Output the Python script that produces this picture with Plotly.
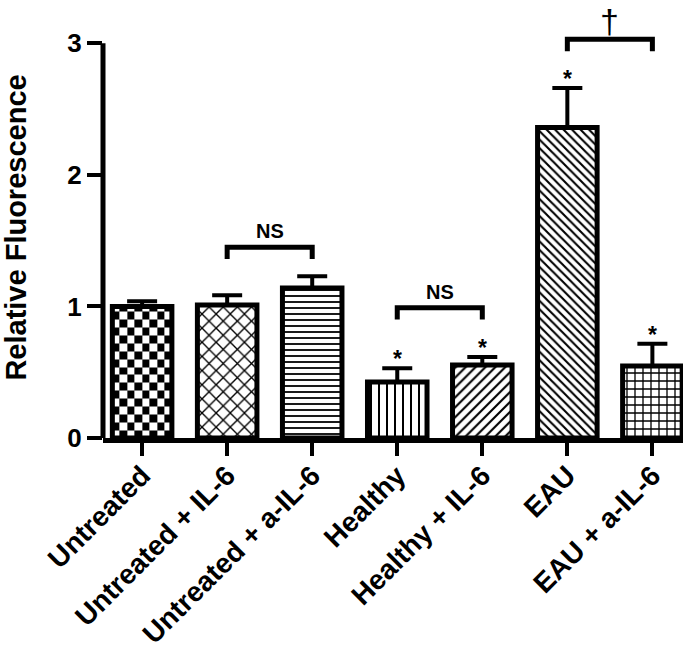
import numpy as np
import plotly.graph_objects as go

# values
groups = ["Untreated", "Untreated + IL-6", "Untreated + a-IL-6", "Healthy",
          "Healthy + IL-6", "EAU", "EAU + a-IL-6"]
means = [1.00, 1.01, 1.14, 0.425, 0.555, 2.36, 0.547]
sem = [0.04, 0.075, 0.09, 0.105, 0.06, 0.30, 0.17]
starred = [False, False, False, True, True, True, True]

# comparison brackets: (left group, right group), height, label
bracket_pairs = [(1, 2), (3, 4), (5, 6)]
bracket_heights = [1.45, 0.99, 3.03]
bracket_labels = ["NS", "NS", "†"]

FONT = "Liberation Sans"
BAR_W = 0.7
xs = list(range(len(groups)))

fig = go.Figure()

# checkerboard fill for the first bar (plotly has no checker pattern)
ncol = 8
step_y = 0.06
xe = np.linspace(-BAR_W / 2, BAR_W / 2, ncol + 1)
ye = list(np.arange(0, means[0], step_y)) + [means[0]]
z = [[(i + j) % 2 for j in range(ncol)] for i in range(len(ye) - 1)]
fig.add_trace(go.Heatmap(
    x=xe + xs[0], y=ye, z=z,
    colorscale=[[0, "white"], [1, "black"]],
    showscale=False, hoverinfo="skip"
))

shapes = ["", "x", "-", "|", "/", "\\", "+"]
sizes = [8, 10, 6, 8, 7, 6, 8]
solid = [0.3, 0.25, 0.3, 0.25, 0.3, 0.35, 0.3]

for i in xs:
    fill = "rgba(0,0,0,0)" if shapes[i] == "" else "white"
    marker = dict(color=fill, line=dict(color="black", width=5))
    if shapes[i]:
        marker["pattern"] = dict(shape=shapes[i], size=sizes[i],
                                 solidity=solid[i], fgcolor="black",
                                 bgcolor="white", fillmode="replace")
    fig.add_trace(go.Bar(
        x=[i], y=[means[i]], width=BAR_W, marker=marker,
        error_y=dict(type="data", symmetric=False, array=[sem[i]],
                     arrayminus=[0], color="black", thickness=4, width=15),
        hoverinfo="skip"
    ))

# brackets
for (a, b), h, lab in zip(bracket_pairs, bracket_heights, bracket_labels):
    leg = 0.09
    fig.add_trace(go.Scatter(
        x=[a, a, b, b], y=[h - leg, h, h, h - leg], mode="lines",
        line=dict(color="black", width=5), cliponaxis=False,
        hoverinfo="skip"
    ))
    if lab == "NS":
        fig.add_annotation(
            x=(a + b) / 2, y=h, text="<b>NS</b>", showarrow=False,
            yanchor="bottom", yshift=3,
            font=dict(family=FONT, size=20, color="black")
        )
    else:
        fig.add_annotation(
            x=(a + b) / 2, y=h, text=lab, showarrow=False,
            yanchor="bottom", yshift=-3,
            font=dict(family=FONT, size=34, color="black")
        )

for i, (m, e, s) in enumerate(zip(means, sem, starred)):
    if s:
        fig.add_annotation(
            x=i, y=m + e, text="<b>*</b>", showarrow=False,
            yanchor="bottom", yshift=-6,
            font=dict(family=FONT, size=23, color="black")
        )

# y axis line only up to 3, the range goes higher for the dagger bracket
fig.add_shape(type="line", xref="paper", yref="y", x0=0, x1=0, y0=0, y1=3,
              line=dict(color="black", width=5))

fig.update_layout(
    width=695, height=653,
    margin=dict(l=103, r=12, t=17, b=215),
    plot_bgcolor="white", paper_bgcolor="white",
    showlegend=False, barmode="overlay",
    font=dict(family=FONT, color="black"),
    xaxis=dict(
        range=[-0.46, 6.36], tickmode="array", tickvals=xs,
        ticktext=[f"<b>{g}</b>" for g in groups], tickangle=-45,
        tickfont=dict(family=FONT, size=28, color="black"),
        ticklabelstandoff=-8,
        showline=True, linewidth=5, linecolor="black",
        ticks="outside", ticklen=13, tickwidth=4, tickcolor="black",
        showgrid=False, zeroline=False, fixedrange=True, automargin=False,
    ),
    yaxis=dict(
        range=[0, 3.2], tickvals=[0, 1, 2, 3],
        ticktext=["<b>0</b>", "<b>1</b>", "<b>2</b>", "<b>3</b>"],
        tickfont=dict(family=FONT, size=26, color="black"),
        showline=False,
        ticks="outside", ticklen=15, tickwidth=4, tickcolor="black",
        showgrid=False, zeroline=False, fixedrange=True, automargin=False,
        title=dict(text="<b>Relative Fluorescence</b>",
                   font=dict(family=FONT, size=29, color="black"),
                   standoff=40),
    ),
)

# drop the browser's default 8px page margin so the figure sits at 0,0
fig.write_html("out.html", config={"displayModeBar": False},
               post_script="document.body.style.margin='0';")
